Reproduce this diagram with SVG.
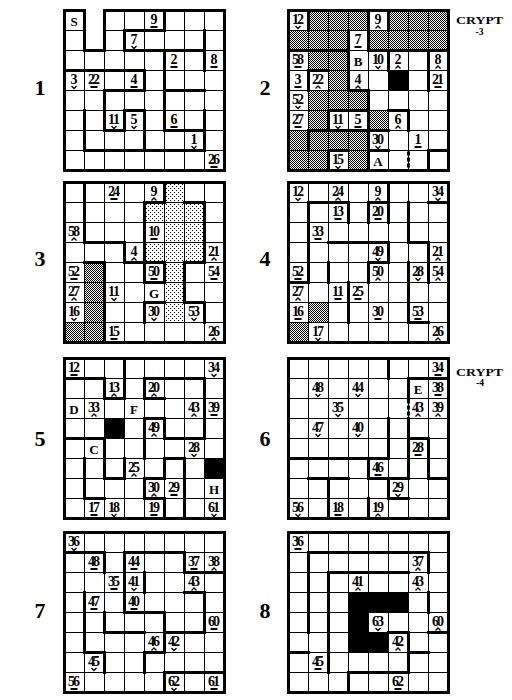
<svg xmlns="http://www.w3.org/2000/svg" width="512" height="700" viewBox="0 0 512 700">
<style>
.gl{fill:none;stroke:#000;stroke-width:1}
.w{fill:none;stroke:#000;stroke-width:3;stroke-linecap:square}
.dash{fill:none;stroke:#000;stroke-width:3;stroke-dasharray:4 2}
.bd{fill:none;stroke:#000;stroke-width:3}
.n{font-family:"Liberation Serif",serif;font-weight:bold;font-size:14px;text-anchor:middle}
.l{font-family:"Liberation Serif",serif;font-weight:bold;font-size:13px;text-anchor:middle}
.lab{font-family:"Liberation Serif",serif;font-weight:bold;font-size:22px;text-anchor:middle}
.cr{font-family:"Liberation Serif",serif;font-weight:bold;font-size:10px}
.h{fill:url(#hatch)}
.d{fill:url(#dots)}
.k{fill:#000}
.mk{fill:none;stroke:#000;stroke-width:1.3}
</style>
<defs>
<pattern id="hatch" x="-0.5" y="-0.5" width="2" height="2" patternUnits="userSpaceOnUse"><rect width="2" height="2" fill="#fff"/><rect width="1" height="1" fill="#000"/><rect x="1" y="1" width="1" height="1" fill="#000"/></pattern>
<pattern id="dots" x="-0.5" y="-0.5" width="4" height="4" patternUnits="userSpaceOnUse"><rect width="4" height="4" fill="#fff"/><rect width="1" height="1" fill="#000"/><rect x="2" y="2" width="1" height="1" fill="#000"/></pattern>
<path id="g" d="M20,0V160M40,0V160M60,0V160M80,0V160M100,0V160M120,0V160M140,0V160M0,20H160M0,40H160M0,60H160M0,80H160M0,100H160M0,120H160M0,140H160"/>
<rect id="u" x="-3.5" y="1" width="7" height="2" fill="#000"/>
<polyline id="up" class="mk" points="-2.5,3.5 0,1 2.5,3.5"/>
<polyline id="dn" class="mk" points="-2.5,1 0,3.5 2.5,1"/>
</defs>
<rect width="512" height="700" fill="#fff"/>

<g id="labels">
<text class="lab" x="40" y="95">1</text>
<text class="lab" x="265" y="95">2</text>
<text class="lab" x="40" y="266">3</text>
<text class="lab" x="265" y="266">4</text>
<text class="lab" x="40" y="446">5</text>
<text class="lab" x="265" y="446">6</text>
<text class="lab" x="40" y="618">7</text>
<text class="lab" x="265" y="618">8</text>
<text class="cr" x="456" y="24" textLength="47" lengthAdjust="spacingAndGlyphs">CRYPT</text>
<text class="cr" x="479.5" y="34.5" text-anchor="middle" style="font-size:9.5px">-3</text>
<text class="cr" x="456" y="375.5" textLength="47" lengthAdjust="spacingAndGlyphs">CRYPT</text>
<text class="cr" x="480" y="386" text-anchor="middle" style="font-size:9.5px">-4</text>
</g>

<g id="grid1" transform="translate(64.5,10.5)">
<rect width="160" height="160" fill="#fff"/>
<use href="#g" class="gl"/>
<rect x="21.5" y="-3" width="17" height="41.5" fill="#fff"/>
<path class="w" d="M60,20H100M100,0V20M60,20V40M60,40H140M140,20V60M100,40V120M0,60H80M80,60V80M40,80H80M40,80V120M40,120H60M60,100V120M60,100H80M80,100V140M100,80H140M100,120H140M140,100V120M20,140H140M20,100V140M140,120V140"/>
<path class="bd" d="M0,0H20V40H40V0H160V160H0Z"/>
<text class="l" x="9.5" y="15.5">S</text>
<text class="n" x="89.5" y="13" textLength="6">9</text><use href="#u" x="89.5" y="14.5"/>
<text class="n" x="69.5" y="33" textLength="6">7</text><use href="#dn" x="69.5" y="34.5"/>
<text class="n" x="109.5" y="53" textLength="6">2</text><use href="#u" x="109.5" y="54.5"/>
<text class="n" x="149.5" y="53" textLength="6">8</text><use href="#u" x="149.5" y="54.5"/>
<text class="n" x="9.5" y="73" textLength="6">3</text><use href="#dn" x="9.5" y="74.5"/>
<text class="n" x="29.5" y="73" textLength="12">22</text><use href="#u" x="29.5" y="74.5"/>
<text class="n" x="69.5" y="73" textLength="6">4</text><use href="#u" x="69.5" y="74.5"/>
<text class="n" x="49.5" y="113" textLength="12">11</text><use href="#dn" x="49.5" y="114.5"/>
<text class="n" x="69.5" y="113" textLength="6">5</text><use href="#dn" x="69.5" y="114.5"/>
<text class="n" x="109.5" y="113" textLength="6">6</text><use href="#u" x="109.5" y="114.5"/>
<text class="n" x="129.5" y="133" textLength="6">1</text><use href="#dn" x="129.5" y="134.5"/>
<text class="n" x="149.5" y="153" textLength="12">26</text><use href="#u" x="149.5" y="154.5"/>
</g>

<g id="grid2" transform="translate(288.5,10.5)">
<rect width="160" height="160" fill="#fff"/>
<rect class="h" x="20" y="0" width="60" height="20"/>
<rect class="h" x="100" y="0" width="60" height="20"/>
<rect class="h" x="0" y="20" width="60" height="20"/>
<rect class="h" x="80" y="20" width="80" height="20"/>
<rect class="h" x="20" y="40" width="40" height="20"/>
<rect class="h" x="40" y="60" width="20" height="20"/>
<rect class="h" x="20" y="80" width="60" height="20"/>
<rect class="h" x="20" y="100" width="20" height="20"/>
<rect class="h" x="80" y="100" width="20" height="20"/>
<rect class="h" x="0" y="120" width="80" height="20"/>
<rect class="h" x="0" y="140" width="40" height="20"/>
<rect class="h" x="60" y="140" width="20" height="20"/>
<use href="#g" class="gl"/>
<rect class="k" x="100" y="60" width="20" height="20"/>
<path class="w" d="M20,0V20M80,0V20M100,0V20M0,40H60M60,20V80M80,20V40M80,40H160M100,40V60M140,40V80M20,60H40M20,60V80M60,80H80M80,80V100M40,100V120M40,100H80M80,100V120M100,100H120M120,100V120M20,120H80M20,120V140M80,120V160M80,120H100M80,140H100M40,140V160M40,140H60M140,140H160M140,140V160"/>
<path class="dash" d="M120,141V160"/>
<rect class="bd" width="160" height="160"/>
<text class="n" x="9.5" y="13" textLength="12">12</text><use href="#dn" x="9.5" y="14.5"/>
<text class="n" x="89.5" y="13" textLength="6">9</text><use href="#up" x="89.5" y="14.5"/>
<text class="n" x="69.5" y="33" textLength="6">7</text><use href="#u" x="69.5" y="34.5"/>
<text class="n" x="9.5" y="53" textLength="12">58</text><use href="#u" x="9.5" y="54.5"/>
<text class="l" x="69.5" y="55.5">B</text>
<text class="n" x="89.5" y="53" textLength="12">10</text><use href="#dn" x="89.5" y="54.5"/>
<text class="n" x="109.5" y="53" textLength="6">2</text><use href="#up" x="109.5" y="54.5"/>
<text class="n" x="149.5" y="53" textLength="6">8</text><use href="#up" x="149.5" y="54.5"/>
<text class="n" x="9.5" y="73" textLength="6">3</text><use href="#u" x="9.5" y="74.5"/>
<text class="n" x="29.5" y="73" textLength="12">22</text><use href="#up" x="29.5" y="74.5"/>
<text class="n" x="69.5" y="73" textLength="6">4</text><use href="#up" x="69.5" y="74.5"/>
<text class="n" x="149.5" y="73" textLength="12">21</text><use href="#u" x="149.5" y="74.5"/>
<text class="n" x="9.5" y="93" textLength="12">52</text><use href="#dn" x="9.5" y="94.5"/>
<text class="n" x="9.5" y="113" textLength="12">27</text><use href="#u" x="9.5" y="114.5"/>
<text class="n" x="49.5" y="113" textLength="12">11</text><use href="#dn" x="49.5" y="114.5"/>
<text class="n" x="69.5" y="113" textLength="6">5</text><use href="#u" x="69.5" y="114.5"/>
<text class="n" x="109.5" y="113" textLength="6">6</text><use href="#up" x="109.5" y="114.5"/>
<text class="n" x="89.5" y="133" textLength="12">30</text><use href="#dn" x="89.5" y="134.5"/>
<text class="n" x="129.5" y="133" textLength="6">1</text><use href="#u" x="129.5" y="134.5"/>
<text class="n" x="49.5" y="153" textLength="12">15</text><use href="#dn" x="49.5" y="154.5"/>
<text class="l" x="89.5" y="155.5">A</text>
</g>

<g id="grid3" transform="translate(64.5,182.5)">
<rect width="160" height="160" fill="#fff"/>
<rect class="d" x="100" y="0" width="20" height="20"/>
<rect class="d" x="80" y="20" width="60" height="20"/>
<rect class="d" x="100" y="40" width="40" height="20"/>
<rect class="d" x="80" y="60" width="60" height="20"/>
<rect class="d" x="100" y="80" width="20" height="60"/>
<rect class="h" x="20" y="80" width="20" height="60"/>
<rect class="h" x="0" y="140" width="40" height="20"/>
<use href="#g" class="gl"/>
<path class="w" d="M20,0V60M20,60H60M60,60V80M60,80H100M80,20V100M80,20H100M100,0V20M120,20H140M140,20V80M120,80H140M120,80V120M120,120H140M140,120V140M100,80V100M80,100H100M80,120H100M80,120V140M40,80V160M20,80H40"/>
<rect class="bd" width="160" height="160"/>
<text class="n" x="49.5" y="13" textLength="12">24</text><use href="#u" x="49.5" y="14.5"/>
<text class="n" x="89.5" y="13" textLength="6">9</text><use href="#up" x="89.5" y="14.5"/>
<text class="n" x="9.5" y="53" textLength="12">58</text><use href="#up" x="9.5" y="54.5"/>
<text class="n" x="89.5" y="53" textLength="12">10</text><use href="#u" x="89.5" y="54.5"/>
<text class="n" x="69.5" y="73" textLength="6">4</text><use href="#up" x="69.5" y="74.5"/>
<text class="n" x="149.5" y="73" textLength="12">21</text><use href="#up" x="149.5" y="74.5"/>
<text class="n" x="9.5" y="93" textLength="12">52</text><use href="#u" x="9.5" y="94.5"/>
<text class="n" x="89.5" y="93" textLength="12">50</text><use href="#u" x="89.5" y="94.5"/>
<text class="n" x="149.5" y="93" textLength="12">54</text><use href="#u" x="149.5" y="94.5"/>
<text class="n" x="9.5" y="113" textLength="12">27</text><use href="#up" x="9.5" y="114.5"/>
<text class="n" x="49.5" y="113" textLength="12">11</text><use href="#dn" x="49.5" y="114.5"/>
<text class="l" x="89.5" y="115.5">G</text>
<text class="n" x="9.5" y="133" textLength="12">16</text><use href="#dn" x="9.5" y="134.5"/>
<text class="n" x="89.5" y="133" textLength="12">30</text><use href="#dn" x="89.5" y="134.5"/>
<text class="n" x="129.5" y="133" textLength="12">53</text><use href="#dn" x="129.5" y="134.5"/>
<text class="n" x="49.5" y="153" textLength="12">15</text><use href="#u" x="49.5" y="154.5"/>
<text class="n" x="149.5" y="153" textLength="12">26</text><use href="#up" x="149.5" y="154.5"/>
</g>

<g id="grid4" transform="translate(288.5,182.5)">
<rect width="160" height="160" fill="#fff"/>
<rect class="h" x="20" y="120" width="20" height="20"/>
<rect class="h" x="0" y="140" width="20" height="20"/>
<use href="#g" class="gl"/>
<path class="w" d="M20,20H60M60,20V40M100,0V40M80,20H100M80,20V40M140,20H160M20,20V100M120,20V60M120,60H140M140,60V100M40,60H100M100,60V80M40,80V100M80,80V100M80,80H100M120,80V140M0,100H20M60,100V140M120,140H140"/>
<rect class="bd" width="160" height="160"/>
<text class="n" x="9.5" y="13" textLength="12">12</text><use href="#dn" x="9.5" y="14.5"/>
<text class="n" x="49.5" y="13" textLength="12">24</text><use href="#up" x="49.5" y="14.5"/>
<text class="n" x="89.5" y="13" textLength="6">9</text><use href="#up" x="89.5" y="14.5"/>
<text class="n" x="149.5" y="13" textLength="12">34</text><use href="#dn" x="149.5" y="14.5"/>
<text class="n" x="49.5" y="33" textLength="12">13</text><use href="#u" x="49.5" y="34.5"/>
<text class="n" x="89.5" y="33" textLength="12">20</text><use href="#u" x="89.5" y="34.5"/>
<text class="n" x="29.5" y="53" textLength="12">33</text><use href="#u" x="29.5" y="54.5"/>
<text class="n" x="89.5" y="73" textLength="12">49</text><use href="#dn" x="89.5" y="74.5"/>
<text class="n" x="149.5" y="73" textLength="12">21</text><use href="#up" x="149.5" y="74.5"/>
<text class="n" x="9.5" y="93" textLength="12">52</text><use href="#u" x="9.5" y="94.5"/>
<text class="n" x="89.5" y="93" textLength="12">50</text><use href="#up" x="89.5" y="94.5"/>
<text class="n" x="129.5" y="93" textLength="12">28</text><use href="#dn" x="129.5" y="94.5"/>
<text class="n" x="149.5" y="93" textLength="12">54</text><use href="#up" x="149.5" y="94.5"/>
<text class="n" x="9.5" y="113" textLength="12">27</text><use href="#up" x="9.5" y="114.5"/>
<text class="n" x="49.5" y="113" textLength="12">11</text><use href="#u" x="49.5" y="114.5"/>
<text class="n" x="69.5" y="113" textLength="12">25</text><use href="#u" x="69.5" y="114.5"/>
<text class="n" x="9.5" y="133" textLength="12">16</text><use href="#u" x="9.5" y="134.5"/>
<text class="n" x="89.5" y="133" textLength="12">30</text><use href="#u" x="89.5" y="134.5"/>
<text class="n" x="129.5" y="133" textLength="12">53</text><use href="#u" x="129.5" y="134.5"/>
<text class="n" x="29.5" y="153" textLength="12">17</text><use href="#dn" x="29.5" y="154.5"/>
<text class="n" x="149.5" y="153" textLength="12">26</text><use href="#up" x="149.5" y="154.5"/>
</g>

<g id="grid5" transform="translate(64.5,358.5)">
<rect width="160" height="160" fill="#fff"/>
<use href="#g" class="gl"/>
<rect class="k" x="40" y="60" width="20" height="20"/>
<rect class="k" x="140" y="100" width="20" height="20"/>
<path class="w" d="M60,0V20M0,20H40M40,20V40M40,40H60M60,20V40M80,20V40M80,20H140M80,40H100M140,20V80M80,60H100M80,60V100M100,60V80M100,80H140M0,80H40M40,80V120M20,100V140M20,140H40M40,120H60M60,100V120M100,100H120M100,100V120M120,100V160M80,120V140M80,120H100M80,140H100M100,140V160"/>
<rect class="bd" width="160" height="160"/>
<text class="n" x="9.5" y="13" textLength="12">12</text><use href="#u" x="9.5" y="14.5"/>
<text class="n" x="149.5" y="13" textLength="12">34</text><use href="#dn" x="149.5" y="14.5"/>
<text class="n" x="49.5" y="33" textLength="12">13</text><use href="#up" x="49.5" y="34.5"/>
<text class="n" x="89.5" y="33" textLength="12">20</text><use href="#up" x="89.5" y="34.5"/>
<text class="l" x="9.5" y="55.5">D</text>
<text class="n" x="29.5" y="53" textLength="12">33</text><use href="#up" x="29.5" y="54.5"/>
<text class="l" x="69.5" y="55.5">F</text>
<text class="n" x="129.5" y="53" textLength="12">43</text><use href="#up" x="129.5" y="54.5"/>
<text class="n" x="149.5" y="53" textLength="12">39</text><use href="#u" x="149.5" y="54.5"/>
<text class="n" x="89.5" y="73" textLength="12">49</text><use href="#up" x="89.5" y="74.5"/>
<text class="l" x="29.5" y="95.5">C</text>
<text class="n" x="129.5" y="93" textLength="12">28</text><use href="#dn" x="129.5" y="94.5"/>
<text class="n" x="69.5" y="113" textLength="12">25</text><use href="#up" x="69.5" y="114.5"/>
<text class="n" x="89.5" y="133" textLength="12">30</text><use href="#up" x="89.5" y="134.5"/>
<text class="n" x="109.5" y="133" textLength="12">29</text><use href="#u" x="109.5" y="134.5"/>
<text class="l" x="149.5" y="135.5">H</text>
<text class="n" x="29.5" y="153" textLength="12">17</text><use href="#u" x="29.5" y="154.5"/>
<text class="n" x="49.5" y="153" textLength="12">18</text><use href="#dn" x="49.5" y="154.5"/>
<text class="n" x="89.5" y="153" textLength="12">19</text><use href="#u" x="89.5" y="154.5"/>
<text class="n" x="149.5" y="153" textLength="12">61</text><use href="#dn" x="149.5" y="154.5"/>
</g>

<g id="grid6" transform="translate(288.5,358.5)">
<rect width="160" height="160" fill="#fff"/>
<use href="#g" class="gl"/>
<path class="w" d="M100,0V20M120,20H160M120,20V40M120,60V120M100,60V100M0,100H100M80,100V120M80,120H120M120,80H140M140,80V120M140,120H160M20,120H60M40,120V160M100,120V140M100,140H120M80,140V160"/>
<path class="dash" d="M120,41V59"/>
<rect class="bd" width="160" height="160"/>
<text class="n" x="149.5" y="13" textLength="12">34</text><use href="#u" x="149.5" y="14.5"/>
<text class="n" x="29.5" y="33" textLength="12">48</text><use href="#dn" x="29.5" y="34.5"/>
<text class="n" x="69.5" y="33" textLength="12">44</text><use href="#dn" x="69.5" y="34.5"/>
<text class="l" x="129.5" y="35.5">E</text>
<text class="n" x="149.5" y="33" textLength="12">38</text><use href="#u" x="149.5" y="34.5"/>
<text class="n" x="49.5" y="53" textLength="12">35</text><use href="#dn" x="49.5" y="54.5"/>
<text class="n" x="129.5" y="53" textLength="12">43</text><use href="#up" x="129.5" y="54.5"/>
<text class="n" x="149.5" y="53" textLength="12">39</text><use href="#up" x="149.5" y="54.5"/>
<text class="n" x="29.5" y="73" textLength="12">47</text><use href="#dn" x="29.5" y="74.5"/>
<text class="n" x="69.5" y="73" textLength="12">40</text><use href="#dn" x="69.5" y="74.5"/>
<text class="n" x="129.5" y="93" textLength="12">28</text><use href="#u" x="129.5" y="94.5"/>
<text class="n" x="89.5" y="113" textLength="12">46</text><use href="#u" x="89.5" y="114.5"/>
<text class="n" x="109.5" y="133" textLength="12">29</text><use href="#dn" x="109.5" y="134.5"/>
<text class="n" x="9.5" y="153" textLength="12">56</text><use href="#dn" x="9.5" y="154.5"/>
<text class="n" x="49.5" y="153" textLength="12">18</text><use href="#u" x="49.5" y="154.5"/>
<text class="n" x="89.5" y="153" textLength="12">19</text><use href="#up" x="89.5" y="154.5"/>
</g>

<g id="grid7" transform="translate(64.5,532.5)">
<rect width="160" height="160" fill="#fff"/>
<use href="#g" class="gl"/>
<path class="w" d="M0,20H40M40,20V40M60,20H120M60,20V80M120,20V40M120,40H160M80,40V60M60,80H100M100,80V100M120,60H140M140,60V100M100,100H140M20,60V120M20,120H40M40,120V140M40,80V100M40,100H80M80,120H100M100,100V120M80,120V140M100,140H160M100,140V160"/>
<rect class="bd" width="160" height="160"/>
<text class="n" x="9.5" y="13" textLength="12">36</text><use href="#dn" x="9.5" y="14.5"/>
<text class="n" x="29.5" y="33" textLength="12">48</text><use href="#u" x="29.5" y="34.5"/>
<text class="n" x="69.5" y="33" textLength="12">44</text><use href="#u" x="69.5" y="34.5"/>
<text class="n" x="129.5" y="33" textLength="12">37</text><use href="#u" x="129.5" y="34.5"/>
<text class="n" x="149.5" y="33" textLength="12">38</text><use href="#up" x="149.5" y="34.5"/>
<text class="n" x="49.5" y="53" textLength="12">35</text><use href="#u" x="49.5" y="54.5"/>
<text class="n" x="69.5" y="53" textLength="12">41</text><use href="#dn" x="69.5" y="54.5"/>
<text class="n" x="129.5" y="53" textLength="12">43</text><use href="#up" x="129.5" y="54.5"/>
<text class="n" x="29.5" y="73" textLength="12">47</text><use href="#u" x="29.5" y="74.5"/>
<text class="n" x="69.5" y="73" textLength="12">40</text><use href="#u" x="69.5" y="74.5"/>
<text class="n" x="149.5" y="93" textLength="12">60</text><use href="#u" x="149.5" y="94.5"/>
<text class="n" x="89.5" y="113" textLength="12">46</text><use href="#up" x="89.5" y="114.5"/>
<text class="n" x="109.5" y="113" textLength="12">42</text><use href="#dn" x="109.5" y="114.5"/>
<text class="n" x="29.5" y="133" textLength="12">45</text><use href="#dn" x="29.5" y="134.5"/>
<text class="n" x="9.5" y="153" textLength="12">56</text><use href="#u" x="9.5" y="154.5"/>
<text class="n" x="109.5" y="153" textLength="12">62</text><use href="#dn" x="109.5" y="154.5"/>
<text class="n" x="149.5" y="153" textLength="12">61</text><use href="#u" x="149.5" y="154.5"/>
</g>

<g id="grid8" transform="translate(288.5,532.5)">
<rect width="160" height="160" fill="#fff"/>
<use href="#g" class="gl"/>
<polygon class="k" points="60,60 120,60 120,80 80,80 80,100 100,100 100,120 60,120"/>
<path class="w" d="M20,20H140M20,20V100M140,20V40M40,40H120M40,40V140M140,60V80M140,100H160M100,100H120M120,100V140M120,120H140M0,120H20M60,140H120M60,140V160"/>
<rect class="bd" width="160" height="160"/>
<text class="n" x="9.5" y="13" textLength="12">36</text><use href="#u" x="9.5" y="14.5"/>
<text class="n" x="129.5" y="33" textLength="12">37</text><use href="#up" x="129.5" y="34.5"/>
<text class="n" x="69.5" y="53" textLength="12">41</text><use href="#up" x="69.5" y="54.5"/>
<text class="n" x="129.5" y="53" textLength="12">43</text><use href="#up" x="129.5" y="54.5"/>
<text class="n" x="89.5" y="93" textLength="12">63</text><use href="#dn" x="89.5" y="94.5"/>
<text class="n" x="149.5" y="93" textLength="12">60</text><use href="#up" x="149.5" y="94.5"/>
<text class="n" x="109.5" y="113" textLength="12">42</text><use href="#up" x="109.5" y="114.5"/>
<text class="n" x="29.5" y="133" textLength="12">45</text><use href="#u" x="29.5" y="134.5"/>
<text class="n" x="109.5" y="153" textLength="12">62</text><use href="#u" x="109.5" y="154.5"/>
</g>
</svg>
